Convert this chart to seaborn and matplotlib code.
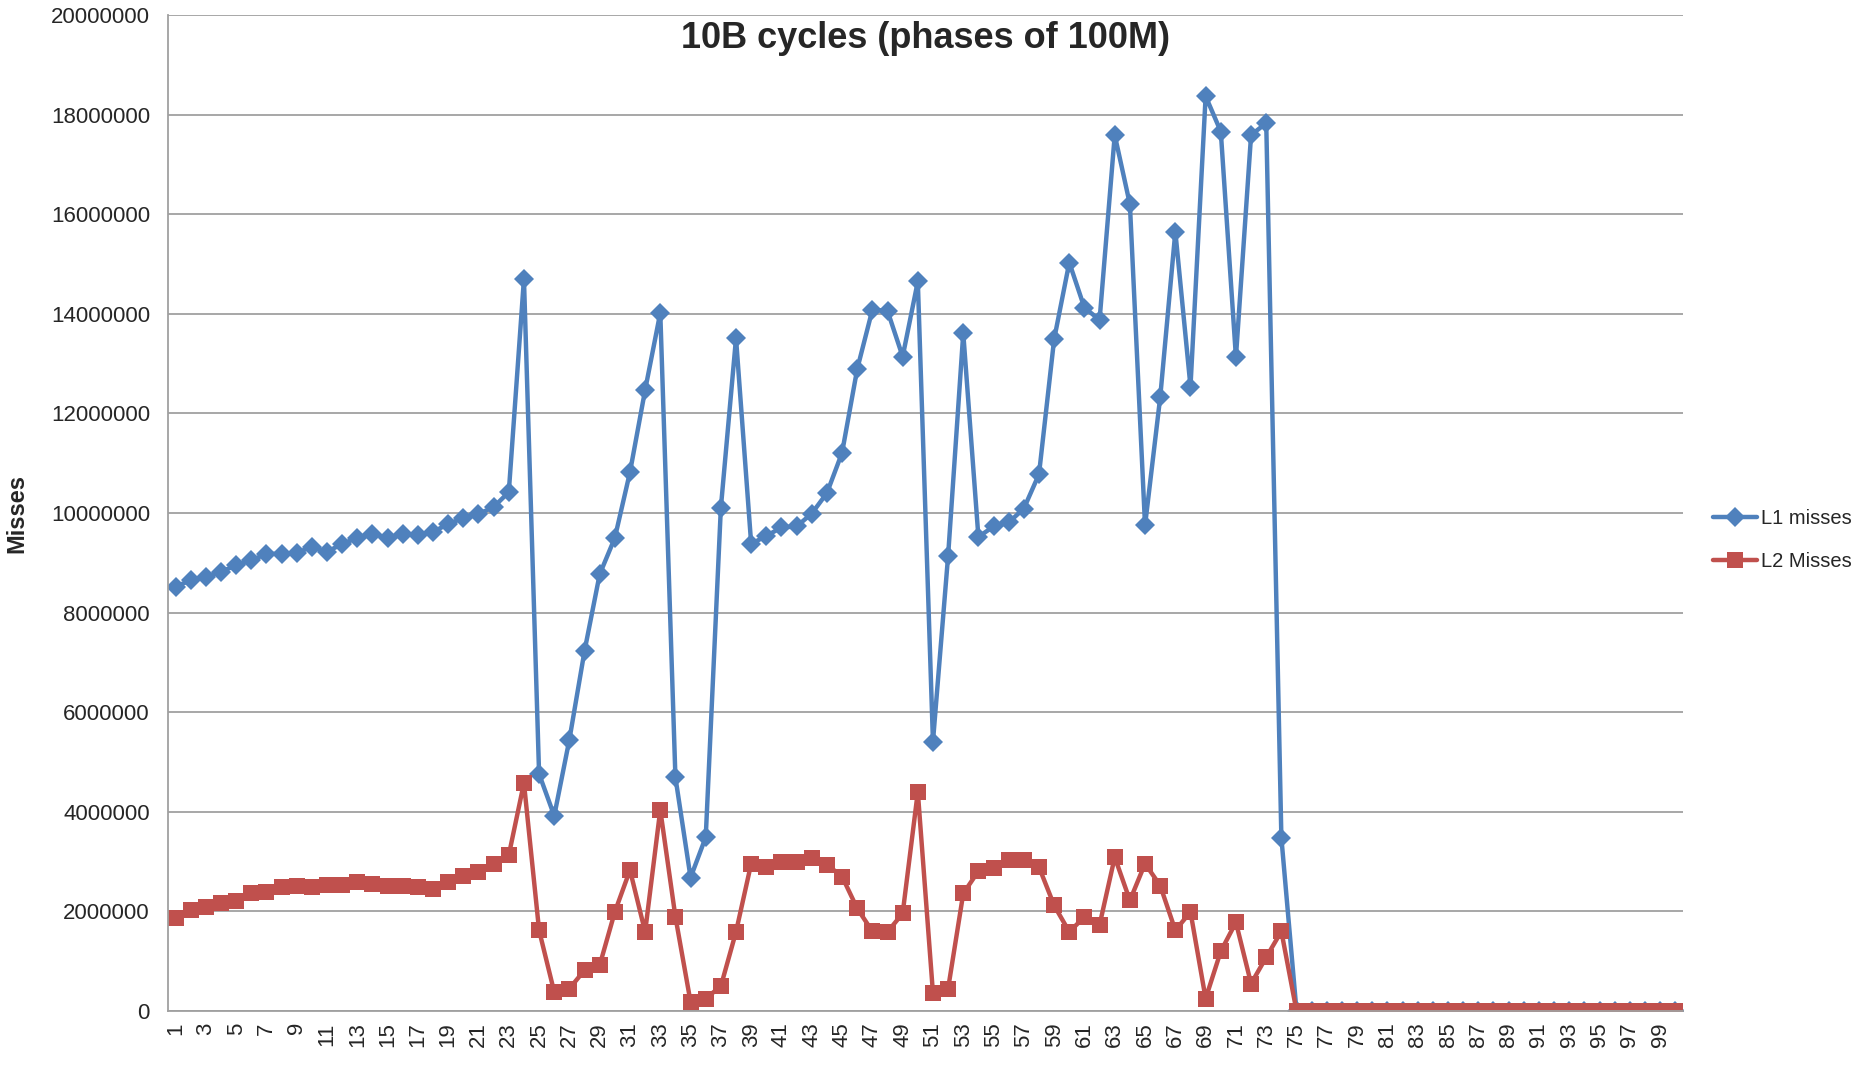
import numpy as np
import pandas as pd
import matplotlib
matplotlib.use("Agg")
import matplotlib.pyplot as plt
import seaborn as sns

# phase index 1..100
phases = list(range(1, 101))

# L1 misses per phase (in millions), phases 75..100 are zero
l1_misses = [
    8.52, 8.65, 8.72, 8.82, 8.95, 9.05, 9.18, 9.18, 9.20, 9.32,
    9.22, 9.38, 9.50, 9.58, 9.50, 9.58, 9.55, 9.62, 9.78, 9.90,
    9.98, 10.12, 10.42, 14.70, 4.76, 3.92, 5.45, 7.23, 8.77, 9.50,
    10.82, 12.47, 14.02, 4.69, 2.68, 3.49, 10.11, 13.51, 9.38, 9.54,
    9.71, 9.73, 9.99, 10.40, 11.21, 12.89, 14.08, 14.06, 13.14, 14.65,
    5.41, 9.14, 13.61, 9.52, 9.73, 9.81, 10.09, 10.78, 13.49, 15.03,
    14.12, 13.88, 17.59, 16.20, 9.75, 12.32, 15.65, 12.54, 18.37, 17.66,
    13.13, 17.59, 17.83, 3.48,
] + [0.0] * 26

# L2 misses per phase (millions)
l2_misses = [
    1.86, 2.02, 2.09, 2.17, 2.21, 2.36, 2.40, 2.49, 2.52, 2.50,
    2.54, 2.54, 2.59, 2.56, 2.52, 2.52, 2.49, 2.46, 2.59, 2.71,
    2.79, 2.96, 3.13, 4.58, 1.62, 0.38, 0.45, 0.82, 0.92, 1.99,
    2.83, 1.59, 4.04, 1.89, 0.18, 0.25, 0.50, 1.59, 2.96, 2.89,
    2.99, 3.00, 3.07, 2.94, 2.70, 2.06, 1.60, 1.59, 1.96, 4.40,
    0.36, 0.45, 2.36, 2.81, 2.88, 3.03, 3.03, 2.89, 2.12, 1.59,
    1.89, 1.73, 3.09, 2.22, 2.96, 2.52, 1.62, 1.99, 0.25, 1.20,
    1.78, 0.55, 1.08, 1.60,
] + [0.0] * 26

y_ticks = list(range(0, 20000001, 2000000))
x_labels = [str(i) for i in range(1, 101, 2)]

df = pd.DataFrame({
    "phase": phases,
    "L1 misses": np.array(l1_misses) * 1e6,
    "L2 Misses": np.array(l2_misses) * 1e6,
})

sns.set_style("white")
plt.rcParams["font.family"] = ["Liberation Sans", "DejaVu Sans"]

fig = plt.figure(figsize=(18.64, 10.71), dpi=100)
ax = fig.add_axes([0.0901, 0.056, 0.8127, 0.930])

blue = "#4F81BD"
red = "#C0504D"
sns.lineplot(data=df, x="phase", y="L1 misses", ax=ax, color=blue, lw=3.2,
             marker="D", markersize=10, markeredgewidth=0, label="L1 misses")
sns.lineplot(data=df, x="phase", y="L2 Misses", ax=ax, color=red, lw=3.2,
             marker="s", markersize=12, markeredgewidth=0, label="L2 Misses")

ax.set_xlim(0.5, 100.5)
ax.set_ylim(0, 20000000)
ax.set_yticks(y_ticks)
ax.set_yticklabels([str(v) for v in y_ticks], fontsize=16)
ax.set_xticks(range(1, 101, 2))
ax.set_xticklabels(x_labels, rotation=90, fontsize=16)
ax.set_xticks(np.arange(0.5, 101, 1), minor=True)
ax.tick_params(axis="x", which="major", length=0, pad=8)
ax.tick_params(axis="x", which="minor", length=7, width=1.2, color="#A0A0A0")
ax.tick_params(axis="y", length=7, width=1.2, color="#A0A0A0", pad=6)

ax.grid(axis="y", color="#A0A0A0", lw=1.3)
ax.set_axisbelow(True)
for s in ["top", "right"]:
    ax.spines[s].set_visible(False)
for s in ["left", "bottom"]:
    ax.spines[s].set_color("#A0A0A0")
    ax.spines[s].set_linewidth(1.3)

ax.set_xlabel("")
ax.set_ylabel("Misses", fontsize=17, fontweight="bold", labelpad=16)
ax.text(0.5, 0.976, "10B cycles (phases of 100M)", transform=ax.transAxes,
        ha="center", va="center", fontsize=26, fontweight="bold")

ax.legend(loc="center left", bbox_to_anchor=(1.02, 0.473), frameon=False,
          fontsize=14.5, handlelength=2.2, labelspacing=1.2, handletextpad=0.2,
          borderaxespad=0, borderpad=0)

fig.savefig("out.png", dpi=100)
